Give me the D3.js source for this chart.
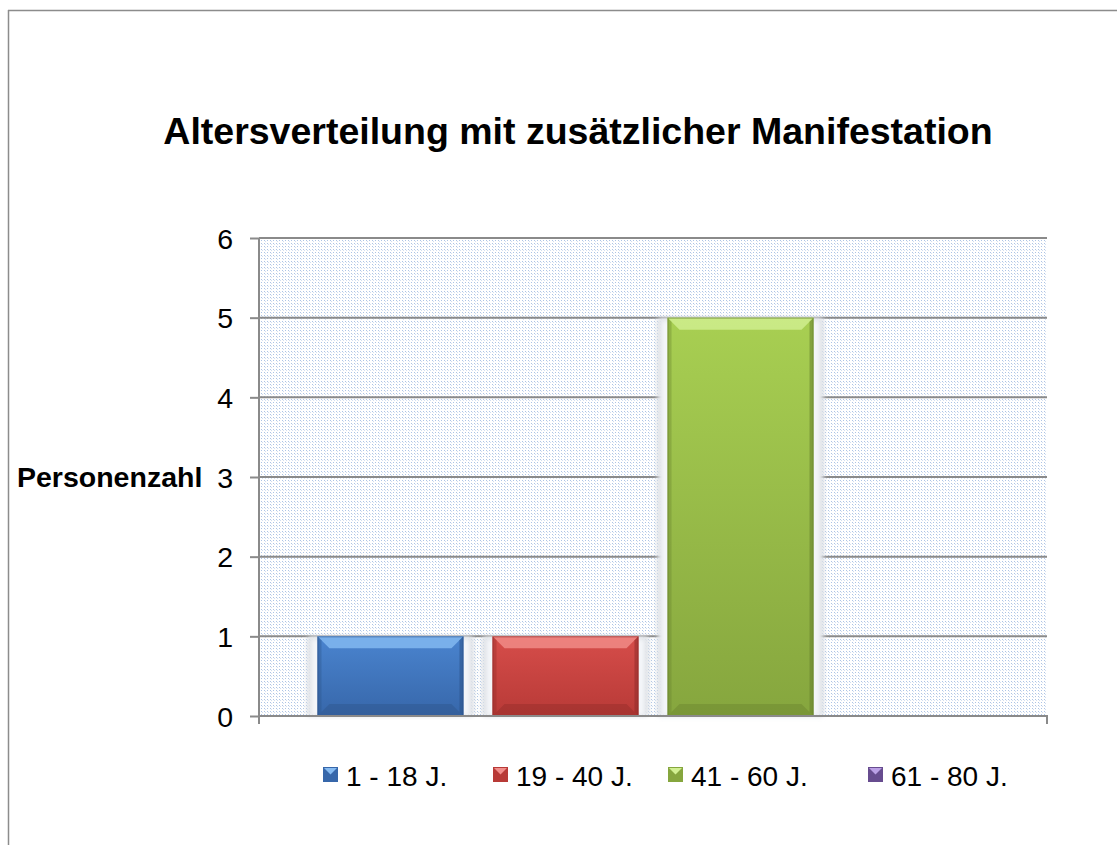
<!DOCTYPE html>
<html><head><meta charset="utf-8">
<script src="https://cdn.jsdelivr.net/npm/d3@7"></script>
<style>html,body{margin:0;padding:0;background:#fff;}svg{display:block;font-family:"Liberation Sans",Arial,sans-serif;}</style>
</head><body>
<script>
const title = "Altersverteilung mit zusätzlicher Manifestation";
const yLabel = "Personenzahl";
const series = ["1 - 18 J.", "19 - 40 J.", "41 - 60 J.", "61 - 80 J."];
const values = [1, 1, 5, 0];
const yTicks = [0, 1, 2, 3, 4, 5, 6];
const colors = [
  {top:"#86bbf2", main1:"#4a84cf", main2:"#3767aa", dark:"#2c5288"},
  {top:"#f28e8b", main1:"#d64d4a", main2:"#b83a37", dark:"#8f2b29"},
  {top:"#d2f092", main1:"#a8cf52", main2:"#86a63e", dark:"#66802e"},
  {top:"#bba0e6", main1:"#8466b0", main2:"#674c8f", dark:"#4f3a70"}
];

const W = 1117, H = 845;
const svg = d3.select("body").append("svg").attr("width", W).attr("height", H);
const defs = svg.append("defs");

// dotted background pattern
const pat = defs.append("pattern").attr("id","dots").attr("patternUnits","userSpaceOnUse")
  .attr("width",6).attr("height",6);
pat.append("rect").attr("width",6).attr("height",6).attr("fill","#ffffff");
[[0,0],[3,0],[0,3],[3,3],[1,1],[4,4],[1,4]].forEach(([x,y],i)=>{
  pat.append("rect").attr("x",x).attr("y",y).attr("width",1).attr("height",1)
    .attr("fill", i<4 ? "#adc4e5" : "#d3dff0");
});

const blur = defs.append("filter").attr("id","shadow").attr("x","-20%").attr("y","-5%").attr("width","140%").attr("height","110%");
blur.append("feGaussianBlur").attr("stdDeviation",2.5);

colors.forEach((c,i)=>{
  const g = defs.append("linearGradient").attr("id","g"+i).attr("x1",0).attr("y1",0).attr("x2",0).attr("y2",1);
  g.append("stop").attr("offset","0%").attr("stop-color",c.main1);
  g.append("stop").attr("offset","100%").attr("stop-color",c.main2);
});

// frame
svg.append("line").attr("x1",8).attr("x2",W).attr("y1",10.5).attr("y2",10.5).attr("stroke","#8c8c8c").attr("stroke-width",1.5);
svg.append("line").attr("x1",8.5).attr("x2",8.5).attr("y1",10).attr("y2",H).attr("stroke","#8c8c8c").attr("stroke-width",1.5);

const L = 259, R = 1047, T = 238, B = 716;
const y = d3.scaleLinear().domain([0,6]).range([B,T]);
const x = d3.scaleBand().domain(series).range([L,R]).paddingInner(0.166).paddingOuter(0.334);

// plot bg
svg.append("rect").attr("x",L).attr("y",T).attr("width",R-L).attr("height",B-T).attr("fill","url(#dots)");

// gridlines
svg.append("g").selectAll("line").data(yTicks.filter(d=>d>0)).join("line")
  .attr("x1",L).attr("x2",R).attr("y1",d=>y(d)).attr("y2",d=>y(d))
  .attr("stroke","#8a8a8a").attr("stroke-width",2);

// bars
const bars = svg.append("g").selectAll("g").data(series.map((s,i)=>({s,v:values[i],i}))).join("g");
bars.filter(d=>d.v>0).each(function(d){
  const g = d3.select(this);
  const x0 = x(d.s), w = x.bandwidth(), y0 = y(d.v), h = y(0)-y(d.v);
  const c = colors[d.i];
  g.append("rect").attr("x",x0-10).attr("y",y0).attr("width",w+20).attr("height",h)
    .attr("fill","#d4d8de").attr("filter","url(#shadow)");
  g.append("rect").attr("x",x0-7).attr("y",y0+2).attr("width",w+14).attr("height",h-2)
    .attr("fill","#f4f6f9").attr("filter","url(#shadow)");
  g.append("rect").attr("x",x0).attr("y",y0).attr("width",w).attr("height",h).attr("fill","url(#g"+d.i+")");
  const b = 12;
  g.append("path").attr("d",`M${x0},${y0}L${x0+w},${y0}L${x0+w-b},${y0+b}L${x0+b},${y0+b}Z`).attr("fill",c.top).attr("opacity",0.8);
  g.append("path").attr("d",`M${x0},${y0+h}L${x0+w},${y0+h}L${x0+w-b},${y0+h-b}L${x0+b},${y0+h-b}Z`).attr("fill",c.dark).attr("opacity",0.4);
  g.append("path").attr("d",`M${x0},${y0}L${x0+4},${y0+4}L${x0+4},${y0+h-4}L${x0},${y0+h}Z`).attr("fill",c.dark).attr("opacity",0.35);
  g.append("path").attr("d",`M${x0+w},${y0}L${x0+w-4},${y0+4}L${x0+w-4},${y0+h-4}L${x0+w},${y0+h}Z`).attr("fill",c.dark).attr("opacity",0.55);
  g.append("rect").attr("x",x0+0.5).attr("y",y0+0.5).attr("width",w-1).attr("height",h-1).attr("fill","none").attr("stroke",c.dark).attr("stroke-width",1).attr("opacity",0.6);
});

// axes
const yAxis = d3.axisLeft(y).tickValues(yTicks).tickSize(9).tickPadding(17).tickFormat(d3.format("d"));
const ya = svg.append("g").attr("transform",`translate(${L},0)`).call(yAxis);
ya.select(".domain").attr("stroke","#8a8a8a").attr("stroke-width",2).attr("d",`M0,${T}V${B}`);
ya.selectAll(".tick line").attr("stroke","#8a8a8a").attr("stroke-width",2);
ya.selectAll(".tick text").attr("fill","#000").style("font-size","28.5px").style("font-family",'"Liberation Sans",Arial,sans-serif').attr("dy","0.36em");

const xa = svg.append("g").attr("transform",`translate(0,${B})`);
xa.append("line").attr("x1",L-1).attr("x2",R+1).attr("y1",0).attr("y2",0).attr("stroke","#8a8a8a").attr("stroke-width",2);
xa.selectAll("line.t").data([L,R]).join("line").attr("class","t")
  .attr("x1",d=>d).attr("x2",d=>d).attr("y1",0).attr("y2",8).attr("stroke","#8a8a8a").attr("stroke-width",2);

// title
svg.append("text").attr("x",578).attr("y",144).attr("text-anchor","middle")
  .style("font-size","37.5px").style("font-weight","bold").text(title);

// y label
svg.append("text").attr("x",17).attr("y",487).style("font-size","28.5px").style("font-weight","bold").text(yLabel);

// legend
const legX = [323, 493, 668, 868];
const leg = svg.append("g").selectAll("g").data(series).join("g").attr("transform",(d,i)=>`translate(${legX[i]},767)`);
leg.each(function(d,i){
  const g = d3.select(this), c = colors[i];
  g.append("rect").attr("width",15).attr("height",15).attr("fill",c.main2);
  g.append("path").attr("d","M1,1L14,1L7.5,7.5Z").attr("fill",c.top);
  g.append("text").attr("x",23).attr("y",19).style("font-size","28px").text(d);
});
</script>
</body></html>
